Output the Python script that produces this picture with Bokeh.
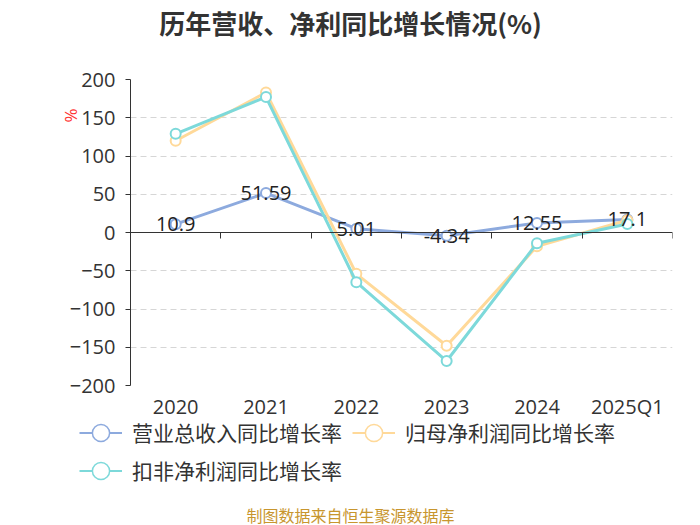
import math
from bokeh.plotting import figure
from bokeh.layouts import column
from bokeh.models import (LinearAxis, FixedTicker, Grid, Range1d, ColumnDataSource,
                          LabelSet, Label, Legend, LegendItem, Title)
from bokeh.core.properties import value
from bokeh.embed import file_html
from bokeh.resources import INLINE

# ---- data ----
categories = ["2020", "2021", "2022", "2023", "2024", "2025Q1"]
revenue_growth = [10.9, 51.59, 5.01, -4.34, 12.55, 17.1]
net_profit_growth = [120.0, 183.0, -54.0, -148.0, -18.0, 16.0]
deducted_profit_growth = [129.0, 177.0, -65.0, -168.0, -14.0, 11.0]
y_ticks = [-200, -150, -100, -50, 0, 50, 100, 150, 200]
series_names = ["营业总收入同比增长率", "归母净利润同比增长率", "扣非净利润同比增长率"]
series_colors = ["#8DAADE", "#FFD999", "#7DD9DA"]
chart_title = "历年营收、净利同比增长情况(%)"
footer_text = "制图数据来自恒生聚源数据库"

CJK = "Noto Sans CJK SC"
NUM = "Open Sans"

xs = [i + 0.5 for i in range(len(categories))]


def strip(height):
    f = figure(width=700, height=height, output_backend="svg", toolbar_location=None,
               x_axis_location=None, y_axis_location=None,
               x_range=Range1d(0, 700), y_range=Range1d(0, height),
               min_border_left=0, min_border_right=0, min_border_top=0, min_border_bottom=0)
    f.outline_line_color = None
    f.xgrid.visible = False
    f.ygrid.visible = False
    f.frame_align = False
    return f


# ================= title strip =================
p0 = strip(50)
p0.add_layout(Label(x=350, y=28, x_units="screen", y_units="screen", text=chart_title,
                    text_align="center", text_baseline="middle", text_font=CJK,
                    text_font_size="26px", text_font_style="bold", text_color="#333333"))

# ================= main chart =================
p = figure(width=700, height=372, output_backend="svg", toolbar_location=None,
           x_axis_location=None, y_axis_location=None,
           x_range=Range1d(0, len(categories)), y_range=Range1d(-200, 200),
           min_border_left=130, min_border_right=28, min_border_top=29, min_border_bottom=37)
p.outline_line_color = None
p.xgrid.visible = False
p.ygrid.visible = False
p.frame_align = False

# y axis
yaxis = LinearAxis(ticker=FixedTicker(ticks=y_ticks))
yaxis.axis_line_color = "#333333"
yaxis.major_tick_line_color = "#333333"
yaxis.major_tick_out = 5
yaxis.major_tick_in = 0
yaxis.minor_tick_line_color = None
yaxis.major_label_text_font = NUM
yaxis.major_label_text_font_size = "20px"
yaxis.major_label_text_color = "#333333"
yaxis.major_label_standoff = 10
p.add_layout(yaxis, "left")

# unit of the y axis
pct = Title(text="%", align="right", offset=29, standoff=-30, text_font=NUM,
            text_font_size="17px", text_font_style="normal", text_color="#FF3333")
p.add_layout(pct, "left")

# grid
grid = Grid(dimension=1, ticker=FixedTicker(ticks=y_ticks))
grid.grid_line_color = "#D6D6D6"
grid.grid_line_dash = "6 4"
grid.grid_line_width = 1
p.add_layout(grid)

# x axis line at zero (ticks pointing down)
xzero = LinearAxis(ticker=FixedTicker(ticks=list(range(len(categories) + 1))), fixed_location=0)
xzero.axis_line_color = "#333333"
xzero.major_tick_line_color = "#333333"
xzero.major_tick_out = 0
xzero.major_tick_in = 6
xzero.minor_tick_line_color = None
xzero.major_label_text_font_size = "0px"
xzero.major_label_text_alpha = 0
xzero.major_label_standoff = 0
p.add_layout(xzero, "above")

# category labels (bottom)
xlab = LinearAxis(ticker=FixedTicker(ticks=xs))
xlab.major_label_overrides = {x: c for x, c in zip(xs, categories)}
xlab.axis_line_color = None
xlab.major_tick_line_color = None
xlab.major_tick_out = 0
xlab.major_tick_in = 0
xlab.minor_tick_line_color = None
xlab.major_label_text_font = NUM
xlab.major_label_text_font_size = "20px"
xlab.major_label_text_color = "#333333"
xlab.major_label_standoff = 7
p.add_layout(xlab, "below")

# series
for name, vals, col in zip(series_names,
                           [revenue_growth, net_profit_growth, deducted_profit_growth],
                           series_colors):
    src = ColumnDataSource(dict(x=xs, y=vals))
    p.line("x", "y", source=src, line_color=col, line_width=3)
    p.scatter("x", "y", source=src, size=10, fill_color="white", line_color=col, line_width=2)

# data labels for revenue
lab_src = ColumnDataSource(dict(x=xs, y=revenue_growth, t=[f"{v:g}" for v in revenue_growth]))
labels = LabelSet(x="x", y="y", text="t", source=lab_src, text_align="center",
                  text_baseline="middle", text_font_size="20px", text_color="#222222",
                  text_font=value(NUM))
p.add_layout(labels)

# ================= legend + footer strip (overlaps the chart's bottom border) =================
overlap = 12
p2 = strip(103 + overlap)
p2.margin = (-overlap, 0, 0, 0)
p2.background_fill_color = None
p2.border_fill_color = None

items = []
for name, col in zip(series_names, series_colors):
    dsrc = ColumnDataSource(dict(x=[float("nan")], y=[float("nan")]))
    lr = p2.line("x", "y", source=dsrc, line_color=col, line_width=2)
    sr = p2.scatter("x", "y", source=dsrc, size=10, fill_color="white", line_color=col, line_width=1.5)
    items.append(LegendItem(label=name, renderers=[lr, sr]))


def make_legend(its, loc):
    lg = Legend(items=its, location=loc, orientation="horizontal")
    lg.border_line_color = None
    lg.background_fill_alpha = 0
    lg.padding = 0
    lg.margin = 0
    lg.spacing = 10
    lg.glyph_width = 43
    lg.glyph_height = 43
    lg.label_height = 43
    lg.label_standoff = 10
    lg.label_text_font = CJK
    lg.label_text_font_size = "21px"
    lg.label_text_color = "#333333"
    return lg


p2.add_layout(make_legend(items[:2], (79, 71.5)))
p2.add_layout(make_legend(items[2:], (79, 33.5)))

p2.add_layout(Label(x=350, y=11, x_units="screen", y_units="screen",
                    text=footer_text, text_align="center", text_baseline="middle",
                    text_font_size="16px", text_color="#C8962E", text_font=CJK))

layout = column(p0, p, p2, spacing=0)
open("out.html", "w").write(file_html(layout, INLINE))
